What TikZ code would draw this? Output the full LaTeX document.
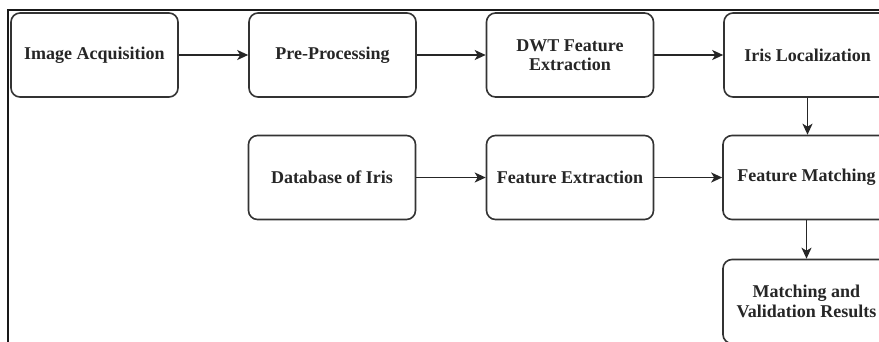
\documentclass[tikz,border=0pt]{standalone}
\usepackage{fontspec}
\setmainfont{Liberation Serif}
\usetikzlibrary{arrows.meta}
\begin{document}
\begin{tikzpicture}[x=1pt,y=-1pt,
  stage/.style={draw=black!80, line width=1.6pt, rounded corners=9pt,
    minimum width=167pt, minimum height=84pt, align=center,
    font=\fontsize{18}{19.5}\selectfont\bfseries, text=black!85, inner sep=2pt},
  link/.style={draw=black!85, line width=1.8pt, -{Stealth[length=11pt,width=10pt,inset=3pt]}}]
\useasboundingbox (0,0) rectangle (879,341);
\fill[white] (0,0) rectangle (879,341);
% frame
\draw[line width=2.4pt, black!90] (8,345) -- (8,10) -- (885,10);
% nodes
\node[stage] (acq) at (94.5,55) {Image Acquisition};
\node[stage] (pre) at (332.5,55) {Pre-Processing};
\node[stage] (dwt) at (570,55) {DWT Feature\\Extraction};
\node[stage] (loc) at (807.5,55) {Iris Localization};
\node[stage] (db) at (332,177.5) {Database of Iris};
\node[stage] (fe) at (570,177.5) {Feature Extraction};
\node[stage] (fm) at (806.5,177.5) {Feature Matching};
\node[stage] (mv) at (806.5,301.5) {Matching and\\Validation Results};
% links
\draw[link] (acq) -- (pre);
\draw[link] (pre) -- (dwt);
\draw[link] (dwt) -- (loc);
\draw[link] (loc.south) -- (loc.south |- fm.north);
\draw[link] (db) -- (fe);
\draw[link] (fe) -- (fm);
\draw[link] (fm) -- (mv);
\end{tikzpicture}
\end{document}
